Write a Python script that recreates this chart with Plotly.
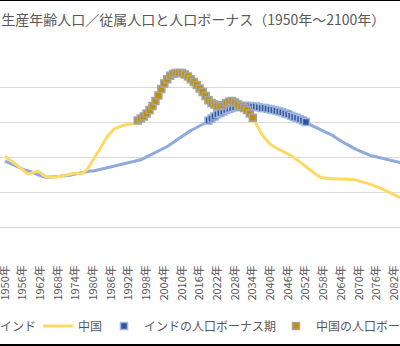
import plotly.graph_objects as go

# Ratio of working-age population to dependent population, yearly
years = list(range(1950, 2085))

india = [
    1.44, 1.42, 1.40, 1.38, 1.36, 1.34, 1.33, 1.31, 1.30, 1.29,   # 1950-59
    1.27, 1.25, 1.23, 1.22, 1.21, 1.21, 1.21, 1.22, 1.22, 1.23,   # 1960-69
    1.23, 1.24, 1.24, 1.25, 1.26, 1.26, 1.27, 1.28, 1.29, 1.30,   # 1970-79
    1.30, 1.31, 1.31, 1.32, 1.33, 1.34, 1.35, 1.36, 1.37, 1.38,   # 1980-89
    1.39, 1.40, 1.41, 1.42, 1.43, 1.45, 1.46, 1.48, 1.50, 1.52,   # 1990-99
    1.54, 1.56, 1.58, 1.60, 1.63, 1.65, 1.68, 1.71, 1.74, 1.77,   # 2000-09
    1.80, 1.83, 1.86, 1.88, 1.90, 1.92, 1.94, 1.96, 1.99, 2.02,   # 2010-19
    2.05, 2.08, 2.11, 2.13, 2.15, 2.17, 2.19, 2.20, 2.21, 2.22,   # 2020-29
    2.23, 2.23, 2.23, 2.23, 2.22, 2.22, 2.21, 2.20, 2.20, 2.19,   # 2030-39
    2.18, 2.17, 2.16, 2.15, 2.14, 2.12, 2.11, 2.09, 2.07, 2.06,   # 2040-49
    2.04, 2.02, 2.00, 1.98, 1.96, 1.94, 1.92, 1.90, 1.88, 1.86,   # 2050-59
    1.84, 1.81, 1.78, 1.75, 1.72, 1.70, 1.68, 1.65, 1.63, 1.61,   # 2060-69
    1.59, 1.57, 1.55, 1.53, 1.52, 1.51, 1.50, 1.48, 1.47, 1.46,   # 2070-79
    1.45, 1.44, 1.44, 1.43, 1.42,                                 # 2080-84
]

china = [
    1.51, 1.48, 1.45, 1.42, 1.39, 1.36, 1.32, 1.28, 1.26, 1.27,   # 1950-59
    1.29, 1.30, 1.28, 1.24, 1.22, 1.21, 1.21, 1.21, 1.22, 1.23,   # 1960-69
    1.24, 1.25, 1.26, 1.27, 1.27, 1.26, 1.26, 1.29, 1.33, 1.40,   # 1970-79
    1.48, 1.54, 1.60, 1.68, 1.75, 1.81, 1.86, 1.90, 1.92, 1.94,   # 1980-89
    1.95, 1.96, 1.96, 1.97, 1.99, 2.02, 2.05, 2.08, 2.12, 2.17,   # 1990-99
    2.23, 2.30, 2.38, 2.47, 2.55, 2.61, 2.66, 2.69, 2.70, 2.70,   # 2000-09
    2.70, 2.68, 2.65, 2.61, 2.57, 2.53, 2.48, 2.43, 2.37, 2.31,   # 2010-19
    2.27, 2.25, 2.23, 2.23, 2.24, 2.27, 2.29, 2.30, 2.28, 2.25,   # 2020-29
    2.22, 2.20, 2.17, 2.12, 2.06, 1.98, 1.90, 1.83, 1.77, 1.72,   # 2030-39
    1.68, 1.65, 1.63, 1.61, 1.59, 1.57, 1.54, 1.52, 1.49, 1.46,   # 2040-49
    1.43, 1.40, 1.37, 1.34, 1.30, 1.26, 1.23, 1.21, 1.20, 1.19,   # 2050-59
    1.19, 1.19, 1.19, 1.19, 1.19, 1.19, 1.19, 1.18, 1.18, 1.17,   # 2060-69
    1.16, 1.15, 1.13, 1.12, 1.11, 1.09, 1.08, 1.06, 1.04, 1.02,   # 2070-79
    1.00, 0.98, 0.96, 0.94, 0.92,                                 # 2080-84
]

# Demographic bonus periods (first year, last year)
india_bonus = (2019, 2052)
china_bonus = (1995, 2034)

tick_years = list(range(1950, 2101, 6))
tick_text = [f"{y}年" for y in tick_years]

names = ["インド", "中国", "インドの人口ボーナス期", "中国の人口ボーナス期"]
title_text = "生産年齢人口／従属人口と人口ボーナス（1950年～2100年）"


def period(vals, span):
    xs = [y for y in years if span[0] <= y <= span[1]]
    ys = [vals[years.index(y)] for y in xs]
    return xs, ys


FONT = "Noto Sans CJK JP"
GREY = "#595959"
W, H = 400, 346
TOP, BOTTOM = 52, 262          # pixel rows of the plot area
plot_h = BOTTOM - TOP


def py(pix):
    """Pixel row -> paper y."""
    return (BOTTOM - pix) / plot_h


fig = go.Figure()
fig.add_trace(go.Scatter(x=years, y=india, mode="lines", name=names[0],
                         legend="legend",
                         line=dict(color="#8FAADC", width=3)))
fig.add_trace(go.Scatter(x=years, y=china, mode="lines", name=names[1],
                         legend="legend2",
                         line=dict(color="#FFD966", width=3)))

ix, iy = period(india, india_bonus)
fig.add_trace(go.Scatter(x=ix, y=iy, mode="markers", name=names[2],
                         legend="legend3",
                         marker=dict(symbol="square", size=7, color="#2F5597",
                                     line=dict(color="#9DB5E0", width=1.5))))
cx, cy = period(china, china_bonus)
fig.add_trace(go.Scatter(x=cx, y=cy, mode="markers", name=names[3],
                         legend="legend4",
                         marker=dict(symbol="square", size=7, color="#BF9000",
                                     line=dict(color="#A5A5A5", width=1.5))))

PX_PER_YEAR = 2.95
x0 = 1950 - 5 / PX_PER_YEAR
x1 = x0 + W / PX_PER_YEAR

fig.update_xaxes(range=[x0, x1], tickmode="array", tickvals=tick_years,
                 ticktext=tick_text, tickangle=-90, showgrid=False,
                 zeroline=False, showline=False, ticks="",
                 ticklabeloverflow="allow",
                 tickfont=dict(family=FONT, size=11, color=GREY))
fig.update_yaxes(range=[0, 3], dtick=0.5, showgrid=True, gridcolor="#D9D9D9",
                 gridwidth=1, zeroline=False, showline=False,
                 showticklabels=False)


def legend_at(px_left):
    return dict(orientation="h", x=px_left / W, xanchor="left",
                y=py(326), yanchor="middle",
                font=dict(family=FONT, size=12, color=GREY),
                bgcolor="rgba(0,0,0,0)", borderwidth=0)


def edge_bar(pix_center, thickness):
    # dark frame edge drawn as an empty filled label box spanning the width
    return dict(xref="paper", yref="paper", x=0.5, y=py(pix_center),
                xanchor="center", yanchor="middle", text=" ",
                showarrow=False, width=W + 20, height=thickness,
                bgcolor="black", borderpad=0, borderwidth=0,
                font=dict(size=1))


fig.update_layout(
    width=W, height=H,
    margin=dict(l=0, r=0, t=TOP, b=H - BOTTOM, autoexpand=False),
    paper_bgcolor="white", plot_bgcolor="white",
    title=dict(text=title_text, x=0.003, xanchor="left", y=1 - 20 / H,
               yanchor="middle", font=dict(family=FONT, size=14, color=GREY)),
    showlegend=True,
    legend=legend_at(-40),
    legend2=legend_at(38),
    legend3=legend_at(104),
    legend4=legend_at(276),
    annotations=[edge_bar(0.5, 1), edge_bar(345, 3)],
)

fig.write_html("out.html")
